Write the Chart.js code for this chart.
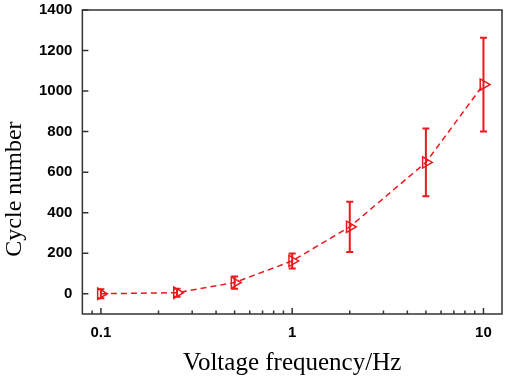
<!DOCTYPE html>
<html>
<head>
<meta charset="utf-8">
<script src="https://cdn.jsdelivr.net/npm/chart.js@4/dist/chart.umd.min.js"></script>
<style>
  html, body { margin: 0; padding: 0; background: #fff; overflow: hidden; }
  canvas { display: block; }
</style>
</head>
<body>
<canvas id="myChart" width="510" height="381"></canvas>
<script>
const frequency = [0.1, 0.25, 0.5, 1, 2, 5, 10];
const cycles = [0, 5, 55, 162, 330, 648, 1032];
const cycleErr = [22, 20, 30, 37, 124, 167, 231];
const xTicks = [0.09, 0.1, 0.2, 0.3, 0.4, 0.5, 0.6, 0.7, 0.8, 0.9, 1, 2, 3, 4, 5, 6, 7, 8, 9, 10];
const xLabels = [0.1, 1, 10];
const yTicks = [0, 200, 400, 600, 800, 1000, 1200, 1400];
const yTitle = 'Cycle number';

const red = 'rgb(235,25,30)';

// error bars, inward ticks, the box and the y title (sits a bit below centre)
const extras = {
    id: 'extras',
    afterDatasetsDraw(chart) {
        const ctx = chart.ctx;
        const xs = chart.scales.x;
        const ys = chart.scales.y;
        ctx.save();
        ctx.strokeStyle = red;
        ctx.lineWidth = 2;
        for (let i = 0; i < frequency.length; i++) {
            const px = xs.getPixelForValue(frequency[i]);
            const top = ys.getPixelForValue(cycles[i] + cycleErr[i]);
            const bot = ys.getPixelForValue(cycles[i] - cycleErr[i]);
            ctx.beginPath();
            ctx.moveTo(px, top);
            ctx.lineTo(px, bot);
            ctx.moveTo(px - 3.5, top);
            ctx.lineTo(px + 3.5, top);
            ctx.moveTo(px - 3.5, bot);
            ctx.lineTo(px + 3.5, bot);
            ctx.stroke();
        }
        const a = chart.chartArea;
        ctx.strokeStyle = '#333';
        ctx.lineWidth = 1.5;
        ctx.beginPath();
        xs.ticks.forEach(t => {
            const px = xs.getPixelForValue(t.value);
            const len = xLabels.includes(t.value) ? 6 : 3.5;
            ctx.moveTo(px, a.bottom);
            ctx.lineTo(px, a.bottom - len);
        });
        ys.ticks.forEach(t => {
            const py = ys.getPixelForValue(t.value);
            ctx.moveTo(a.left, py);
            ctx.lineTo(a.left + 6, py);
        });
        ctx.stroke();
        ctx.strokeRect(a.left, a.top, a.right - a.left, a.bottom - a.top);

        ctx.translate(15, a.top + 0.589 * (a.bottom - a.top));
        ctx.rotate(-Math.PI / 2);
        ctx.fillStyle = '#000';
        ctx.font = '24px "Liberation Serif"';
        ctx.textAlign = 'center';
        ctx.textBaseline = 'middle';
        ctx.fillText(yTitle, 0, 0);
        ctx.restore();
    }
};

const ctx = document.getElementById('myChart');
new Chart(ctx, {
    type: 'line',
    data: {
        datasets: [{
            data: frequency.map((f, i) => ({ x: f, y: cycles[i] })),
            borderColor: red,
            borderWidth: 1.5,
            borderDash: [6, 4],
            pointStyle: 'triangle',
            rotation: 90,
            pointRadius: 6.5,
            pointBorderWidth: 1.5,
            pointBorderColor: red,
            pointBackgroundColor: 'rgba(255,255,255,0)',
            fill: false
        }]
    },
    options: {
        responsive: false,
        animation: false,
        layout: { padding: { top: 10, right: -4, left: 29, bottom: 0 } },
        plugins: {
            legend: { display: false },
            tooltip: { enabled: false }
        },
        scales: {
            x: {
                type: 'logarithmic',
                min: 0.08,
                max: 12.5,
                afterBuildTicks: scale => {
                    scale.ticks = xTicks.map(v => ({ value: v }));
                },
                afterFit: scale => {
                    scale.paddingLeft = 0;
                    scale.paddingRight = 0;
                },
                grid: { display: false, drawTicks: false },
                border: { display: false },
                ticks: {
                    autoSkip: false,
                    maxRotation: 0,
                    padding: 10,
                    color: '#000',
                    font: { family: 'Liberation Sans', size: 15, weight: 'bold' },
                    callback: v => xLabels.includes(v) ? String(v) : ''
                },
                title: {
                    display: true,
                    text: 'Voltage frequency/Hz',
                    color: '#000',
                    font: { family: 'Liberation Serif', size: 25 },
                    padding: { top: -4, bottom: 3 }
                }
            },
            y: {
                min: -100,
                max: 1400,
                afterBuildTicks: scale => {
                    scale.ticks = yTicks.map(v => ({ value: v }));
                },
                afterFit: scale => {
                    scale.paddingTop = 0;
                    scale.paddingBottom = 0;
                },
                grid: { display: false, drawTicks: false },
                border: { display: false },
                ticks: {
                    padding: 10,
                    color: '#000',
                    font: { family: 'Liberation Sans', size: 15, weight: 'bold' },
                    callback: v => String(v)
                }
            }
        }
    },
    plugins: [extras]
});
</script>
</body>
</html>
